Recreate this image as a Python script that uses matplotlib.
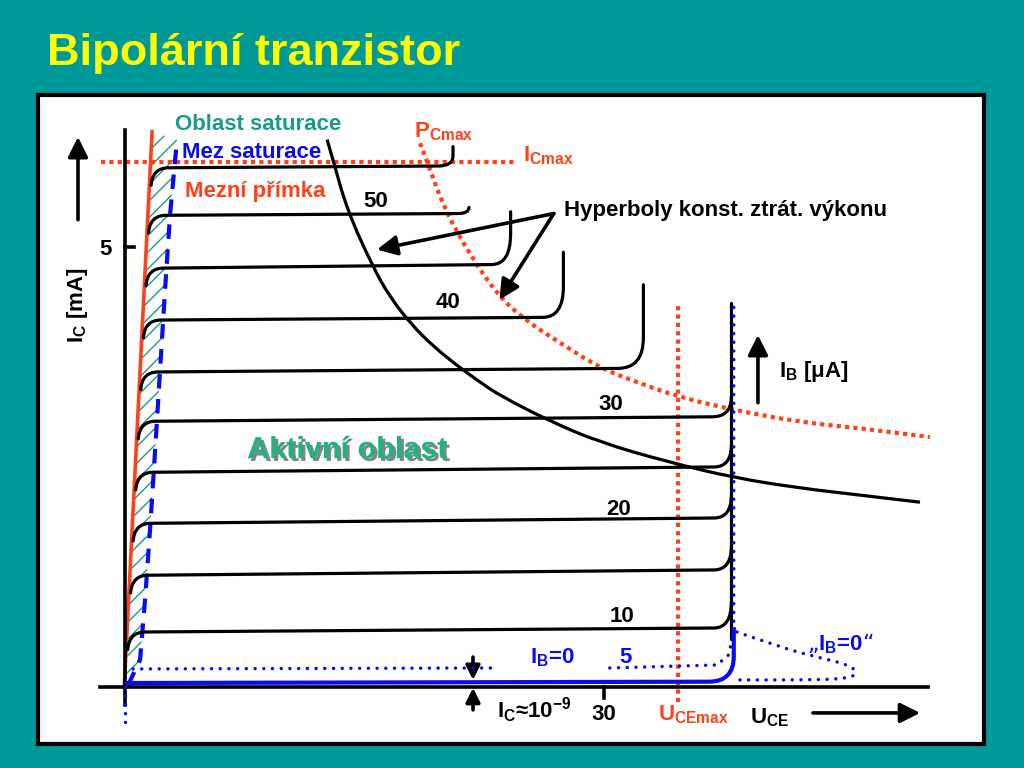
import matplotlib
matplotlib.use('Agg')
import matplotlib.pyplot as plt
import matplotlib.patheffects as pe
from matplotlib.path import Path
from matplotlib.patches import PathPatch, Polygon

plt.rcParams['font.family'] = ['Liberation Sans', 'DejaVu Sans']
plt.rcParams['font.weight'] = 'bold'
plt.rcParams['hatch.linewidth'] = 1.0

BG = '#009999'
RED = '#ff4019'
BLUE = '#0b0bf0'
TEAL = '#1a9a8a'
GREEN = '#1db383'

# output characteristics, one curve per I_B step (U_CE in V, I_C in mA)
ic_left = [5.90, 5.36, 4.76, 4.17, 3.58, 3.02, 2.44, 1.86, 1.27, 0.625]
ic_right = [5.92, 5.38, 4.80, 4.20, 3.62, 3.07, 2.50, 1.92, 1.33, 0.67]
knee_u = [1.63, 1.47, 1.31, 1.15, 0.98, 0.83, 0.67, 0.51, 0.35, 0.17]
breakdown_u = [20.5, 21.5, 24.1, 27.4, 32.4, 37.9, 37.9, 37.9, 37.9, 37.9]
breakdown_top = [6.14, 5.45, 5.40, 4.94, 4.57, 3.30, 2.75, 2.18, 1.60, 0.97]
bend_du = [0.9, 0.7, 1.2, 1.3, 1.6, 1.2, 1.1, 1.1, 1.1, 1.1]
bend_di = [0.12, 0.07, 0.35, 0.35, 0.35, 0.23, 0.25, 0.26, 0.27, 0.30]

ib_labels = ['50', '40', '30', '20', '10']
ib_label_u = [14.9, 19.4, 29.6, 30.1, 30.3]
ib_label_i = [5.45, 4.31, 3.15, 1.95, 0.74]

# hyperbola of constant power (black) and P_Cmax (red dotted)
hyp_u = [12.63, 13.0, 13.88, 15.5, 16.56, 17.94, 19.25, 20.63, 22.06, 23.44,
         26.56, 29.69, 33.88, 38.13, 42.19, 45.94, 49.69]
hyp_i = [6.22, 5.99, 5.42, 4.77, 4.43, 4.11, 3.875, 3.67, 3.48, 3.31,
         3.02, 2.78, 2.56, 2.375, 2.26, 2.18, 2.10]
pmax_u = [18.44, 19.06, 20.0, 21.56, 23.31, 25.0, 27.19, 29.69, 32.19,
          34.56, 37.94, 42.19, 45.94, 50.31]
pmax_i = [6.18, 5.88, 5.42, 4.91, 4.45, 4.17, 3.91, 3.625, 3.45, 3.30,
          3.15, 3.01, 2.94, 2.84]

# saturation boundary lines
limit_u = [-0.05, 1.69]
limit_i = [0.0, 6.31]
satur_u = [0.19, 0.94, 1.25, 1.56, 1.88, 2.19, 2.5, 2.81, 3.25]
satur_i = [0.02, 0.31, 0.99, 1.78, 2.69, 3.60, 4.51, 5.36, 6.22]

# limits
icmax = 5.97
ucemax = 34.56
breakdown_x = 37.9
breakdown_hi = 4.36

# I_B = 0 and leakage curves
ib5_u = [0.5, 23.0]
ib5_i = [0.205, 0.216]
ib5b_u = [30.3, 37.0, 37.7, 38.05, 38.05]
ib5b_i = [0.216, 0.25, 0.36, 0.6, 4.36]
loop_u = [38.25, 41.1, 43.25, 45.3, 45.75, 45.3, 43.25, 38.0]
loop_i = [0.625, 0.443, 0.34, 0.25, 0.16, 0.10, 0.08, 0.08]


def smooth(us, vs):
    # quadratic bezier through midpoints, read points act as controls
    pts = list(zip(us, vs))
    verts = [pts[0]]
    codes = [Path.MOVETO]
    for k in range(1, len(pts) - 1):
        mid = ((pts[k][0] + pts[k + 1][0]) / 2, (pts[k][1] + pts[k + 1][1]) / 2)
        verts += [pts[k], mid]
        codes += [Path.CURVE3, Path.CURVE3]
    verts.append(pts[-1])
    codes.append(Path.LINETO)
    return Path(verts, codes)


fig = plt.figure(figsize=(10.24, 7.68), dpi=100, facecolor=BG)
fig.text(47 / 1024, 1 - 65 / 768, 'Bipolární tranzistor', fontsize=32.5,
         color='#ffff00', weight='bold', va='baseline')

ax = fig.add_axes([38 / 1024, 24 / 768, 946 / 1024, 649 / 768])
ax.set_xlim(-5.44, 53.69)
ax.set_ylim(-0.648, 6.727)
ax.set_xticks([])
ax.set_yticks([])
for s in ax.spines.values():
    s.set_linewidth(3)
    s.set_color('black')

# drawn coordinate axes
ax.plot([0, 0], [-0.2, 6.33], color='k', lw=2.6, zorder=5)
ax.plot([-1.56, 50.2], [0, 0], color='k', lw=2.6, zorder=5)
ax.plot([0, 0.55], [5.0, 5.0], color='k', lw=2.6, zorder=5)
ax.plot([29.94, 29.94], [0, -0.12], color='k', lw=2.6, zorder=5)
ax.plot([0, 0], [0, -0.4], color=BLUE, lw=2.5, ls=(0, (0.01, 2.5)),
        dash_capstyle='round', zorder=6)

arrow = dict(arrowstyle='-|>,head_length=0.6,head_width=0.3', lw=2.6,
             color='k', mutation_scale=20, shrinkA=0, shrinkB=0)
ax.annotate('', xy=(-2.94, 6.25), xytext=(-2.94, 5.31), arrowprops=arrow)
ax.annotate('', xy=(49.7, -0.295), xytext=(43.0, -0.295), arrowprops=arrow)
ax.annotate('', xy=(39.56, 4.0), xytext=(39.56, 3.23), arrowprops=arrow)
small = dict(arrow, mutation_scale=14)
ax.annotate('', xy=(21.75, 0.08), xytext=(21.75, 0.34), arrowprops=small)
ax.annotate('', xy=(21.75, -0.01), xytext=(21.75, -0.26), arrowprops=small)
ax.annotate('', xy=(15.75, 4.97), xytext=(26.8, 5.38), arrowprops=arrow)
ax.annotate('', xy=(23.4, 4.40), xytext=(26.8, 5.38), arrowprops=arrow)

# saturation region
sat_poly = list(zip(limit_u, limit_i)) + list(zip(satur_u[::-1], satur_i[::-1]))
ax.add_patch(Polygon(sat_poly, closed=True, fill=False, hatch='//',
                     edgecolor=TEAL, lw=0, zorder=1))
ax.plot(limit_u, limit_i, color=RED, lw=2.6, zorder=3)
ax.plot(satur_u, satur_i, color=BLUE, lw=3, ls=(0, (3.5, 2.5)), zorder=3)

# limit lines
ax.plot([-1.53, 24.4], [icmax, icmax], color=RED, lw=3, ls=(0, (1, 1)), zorder=2)
ax.plot([ucemax, ucemax], [-0.17, 4.33], color=RED, lw=3, ls=(0, (1, 1)), zorder=2)
ax.add_patch(PathPatch(smooth(pmax_u, pmax_i), fill=False, edgecolor=RED,
                       lw=3, ls=(0, (1, 1)), zorder=2))
ax.add_patch(PathPatch(smooth(hyp_u, hyp_i), fill=False, edgecolor='k',
                       lw=2.3, zorder=4))

# output characteristics
for i in range(len(ic_left)):
    L, Lr, k = ic_left[i], ic_right[i], knee_u[i]
    u, top = breakdown_u[i], breakdown_top[i]
    verts = [(k, L - 0.2), (k + 0.08, L), (k + 1.1, L),
             (u - bend_du[i], Lr), (u, Lr), (u, Lr + bend_di[i]), (u, top)]
    codes = [Path.MOVETO, Path.CURVE3, Path.CURVE3, Path.LINETO,
             Path.CURVE3, Path.CURVE3, Path.LINETO]
    ax.add_patch(PathPatch(Path(verts, codes), fill=False, color='k',
                           lw=2.3, capstyle='round', zorder=4))
ax.plot([breakdown_x, breakdown_x], [0.55, breakdown_hi], color='k', lw=2.3,
        solid_capstyle='round', zorder=4)

# I_B = 0 (solid blue) and leakage (dotted)
ib0 = Path([(0.0, 0.045), (36.5, 0.06), (38.05, 0.06), (38.05, 0.35),
            (38.05, 0.68)],
           [Path.MOVETO, Path.LINETO, Path.CURVE3, Path.CURVE3, Path.LINETO])
ax.add_patch(PathPatch(ib0, fill=False, color=BLUE, lw=3, zorder=5))
dot = dict(color=BLUE, lw=2.5, ls=(0, (0.01, 2.5)), dash_capstyle='round', zorder=6)
ax.plot(ib5_u, ib5_i, **dot)
ax.plot(ib5b_u, ib5b_i, **dot)
ax.add_patch(PathPatch(smooth(loop_u, loop_i), fill=False, edgecolor=BLUE,
                       lw=2.5, ls=(0, (0.01, 2.5)), capstyle='round', zorder=6))

# labels
for t, u, i in zip(ib_labels, ib_label_u, ib_label_i):
    ax.text(u, i, t, fontsize=16, color='k')

labels = [
    ('Oblast saturace', 3.125, 6.33, TEAL),
    ('Mez saturace', 3.56, 6.01, BLUE),
    ('Mezní přímka', 3.75, 5.57, RED),
    (r'P$_\mathregular{Cmax}$', 18.06, 6.24, RED),
    (r'I$_\mathregular{Cmax}$', 24.9, 5.97, RED),
    ('Hyperboly konst. ztrát. výkonu', 27.44, 5.35, 'k'),
    (r'I$_\mathregular{B}$ [μA]', 40.9, 3.52, 'k'),
    (r'I$_\mathregular{B}$=0', 25.3, 0.27, BLUE),
    ('5', 30.9, 0.27, BLUE),
    (r'„I$_\mathregular{B}$=0“', 42.6, 0.42, BLUE),
    (r'I$_\mathregular{C}$≈10$^\mathregular{-9}$', 23.25, -0.35, 'k'),
    (r'U$_\mathregular{CEmax}$', 33.3, -0.375, RED),
    (r'U$_\mathregular{CE}$', 39.06, -0.41, 'k'),
]
for t, u, i, c in labels:
    ax.text(u, i, t, fontsize=16, color=c, va='baseline', zorder=7)

ax.text(29.94, -0.375, '30', fontsize=16, ha='center', va='baseline')
ax.text(-0.81, 4.91, '5', fontsize=16, ha='right', va='baseline')
ax.text(-3.0, 4.34, r'I$_\mathregular{C}$ [mA]', fontsize=16, rotation=90,
        ha='center', va='center')
ax.text(7.63, 2.60, 'Aktivní oblast', fontsize=22, color=GREEN, va='baseline',
        path_effects=[pe.withSimplePatchShadow(offset=(2, -2),
                                               shadow_rgbFace='#333333',
                                               alpha=0.6)])

fig.savefig('out.png', dpi=100, facecolor=BG)
